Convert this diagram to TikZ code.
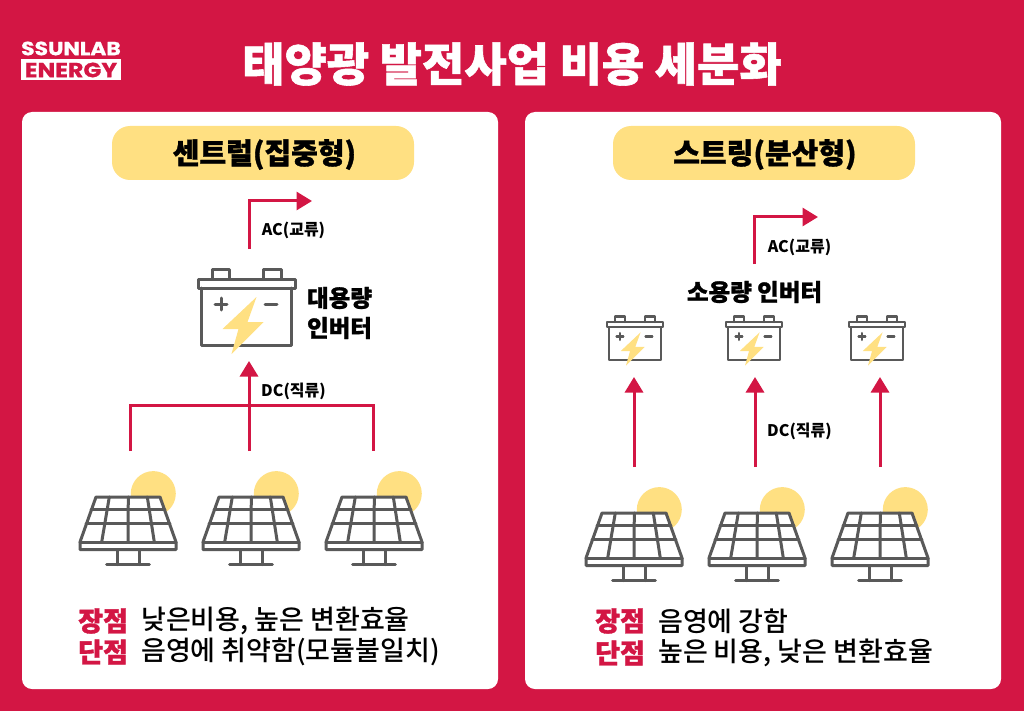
\documentclass[tikz,border=0pt]{standalone}
\usepackage{fontspec}
\usetikzlibrary{arrows.meta}
\setmainfont{Noto Sans CJK KR}
\newfontfamily\heavyfont[FakeBold=1.2]{Noto Sans CJK KR Black}
\newfontfamily\midfont{Noto Sans CJK KR Medium}
\newfontfamily\logofont[FakeStretch=1.15,FakeBold=0.8]{Poppins}
\definecolor{crim}{HTML}{D31644}
\definecolor{sunny}{HTML}{FFE082}
\definecolor{iron}{HTML}{595959}
\tikzset{
  card/.style={fill=white,rounded corners=10pt},
  pill/.style={fill=sunny,rounded corners=18pt},
  iconline/.style={draw=iron,line width=3pt,line join=round,line cap=round},
  flow/.style={draw=crim,line width=3pt,-{Triangle[length=15.5pt,width=18pt]}},
  wire/.style={draw=crim,line width=3pt},
  lab/.style={font=\fontsize{16}{17}\selectfont\bfseries,anchor=center,inner sep=0},
  head/.style={font=\heavyfont\fontsize{29}{31}\selectfont,anchor=center,inner sep=0},
  big/.style={font=\heavyfont\fontsize{23.5}{25}\selectfont,anchor=center,inner sep=0},
  body/.style={font=\midfont\fontsize{27}{29}\selectfont,anchor=west,inner sep=0},
  redmark/.style={font=\heavyfont\fontsize{27}{29}\selectfont,text=crim,anchor=west,inner sep=0},
}
\newcommand{\drawbattery}[4]{% cx, lid-top y, scale, line width
 \begin{scope}[shift={(#1,#2)},x=#3pt,y=-#3pt]
  \draw[iconline,line width=#4pt] (-45.5,9) -- (-45.5,66) -- (44.5,66) -- (44.5,9);
  \draw[iconline,line width=#4pt] (-49,0) rectangle (48,9);
  \draw[iconline,line width=#4pt] (-35,0) -- (-35,-9.5) -- (-18,-9.5) -- (-18,0);
  \draw[iconline,line width=#4pt] (16.5,0) -- (16.5,-9.5) -- (34.5,-9.5) -- (34.5,0);
  \draw[iconline,line width=#4pt] (-32,25) -- (-20,25) (-26,19) -- (-26,31);
  \draw[iconline,line width=#4pt] (18,25) -- (30,25);
  \fill[sunny] (9.5,18) -- (-24.5,50) -- (-8.5,50) -- (-15.5,75) -- (16.5,43) -- (0.5,43) -- cycle;
 \end{scope}}
\newcommand{\drawsolar}[2]{% cx, top y of the panel
 \begin{scope}[shift={(#1,#2)}]
  \fill[sunny] (25.3,-3.4) circle (22.5);
  \fill[white] (-32,0) -- (32,0) -- (48,45) -- (48,52.5) -- (-48,52.5) -- (-48,45) -- cycle;
  \draw[iconline] (-32,0) -- (32,0) -- (48,45) -- (48,52.5) -- (-48,52.5) -- (-48,45) -- cycle;
  \draw[iconline] (-48,45) -- (48,45);
  \draw[iconline] (-36.8,12.6) -- (36.8,12.6) (-41.8,26.6) -- (41.8,26.6);
  \draw[iconline] (-18.7,0) -- (-26.3,45) (0.3,0) -- (0,45) (19.3,0) -- (26.3,45);
  \draw[iconline] (-10.7,52.5) -- (-10.7,67.6) (11,52.5) -- (11,67.6) (-21.3,67.6) -- (21.3,67.6);
 \end{scope}}
\begin{document}
\begin{tikzpicture}[x=1pt,y=-1pt]
\useasboundingbox (0,0) rectangle (1024,711);
\fill[crim] (0,0) rectangle (1024,711);
% logo
\node[font=\logofont\bfseries\fontsize{19}{20}\selectfont,text=white,inner sep=0] (logoA) at (71,48.5) {SSUNLAB};
\node[fill=white,minimum width=100pt,minimum height=21pt,inner sep=0,font=\logofont\bfseries\fontsize{20.5}{21}\selectfont,text=crim] (logoB) at (71,70) {ENERGY};
\node[font=\heavyfont\fontsize{46}{48}\selectfont,text=white,inner sep=0] (title) at (512,64) {태양광 발전사업 비용 세분화};
% cards
\fill[card] (22,112) rectangle (498,689);
\fill[card] (525,112) rectangle (1001,689);
\fill[pill] (112,126) rectangle (414,180);
\fill[pill] (613,126) rectangle (915,180);
\node[head] (hL) at (264.5,154.5) {센트럴(집중형)};
\node[head] (hR) at (765,154.5) {스트링(분산형)};
% left side
\drawbattery{247}{279}{1}{3}
\coordinate (invL) at (249,249);
\coordinate (acL) at (312,201);
\draw[flow] (invL) |- (acL);
\node[lab] (acLt) at (293.5,230) {AC(교류)};
\node[big,align=left,font=\heavyfont\fontsize{23.5}{30}\selectfont] (invT) at (339.5,313) {대용량\\인버터};
\coordinate (p1) at (130,451);
\coordinate (p2) at (249,451);
\coordinate (p3) at (373,451);
\coordinate (bus) at (249,405.5);
\coordinate (dcL) at (249,361);
\draw[wire] (p1) |- (bus) -| (p3);
\draw[flow] (p2) -- (dcL);
\node[lab] (dcLt) at (293.5,391) {DC(직류)};
\drawsolar{128}{497}
\drawsolar{251}{497}
\drawsolar{374}{497}
\node[redmark] (m1) at (78,621) {장점};
\node[body] (b1) at (141,621) {낮은비용, 높은 변환효율};
\node[redmark] (m2) at (78,652) {단점};
\node[body] (b2) at (141,652) {음영에 취약함(모듈불일치)};
% right side
\coordinate (invR) at (754,264);
\coordinate (acR) at (818,217);
\draw[flow] (invR) |- (acR);
\node[lab] (acRt) at (799.5,247) {AC(교류)};
\node[big] (invS) at (754.5,292) {소용량 인버터};
\drawbattery{635}{322}{0.58}{2.1}
\drawbattery{754}{322}{0.58}{2.1}
\drawbattery{877}{322}{0.58}{2.1}
\coordinate (q1) at (634,467); \coordinate (t1) at (634,377);
\coordinate (q2) at (755,467); \coordinate (t2) at (755,377);
\coordinate (q3) at (880,467); \coordinate (t3) at (880,377);
\draw[flow] (q1) -- (t1);
\draw[flow] (q2) -- (t2);
\draw[flow] (q3) -- (t3);
\node[lab] (dcRt) at (799.5,431) {DC(직류)};
\drawsolar{634}{513}
\drawsolar{757}{513}
\drawsolar{880}{513}
\node[redmark] (m3) at (595,621) {장점};
\node[body] (b3) at (658,621) {음영에 강함};
\node[redmark] (m4) at (595,653) {단점};
\node[body] (b4) at (658,653) {높은 비용, 낮은 변환효율};
\end{tikzpicture}
\end{document}
